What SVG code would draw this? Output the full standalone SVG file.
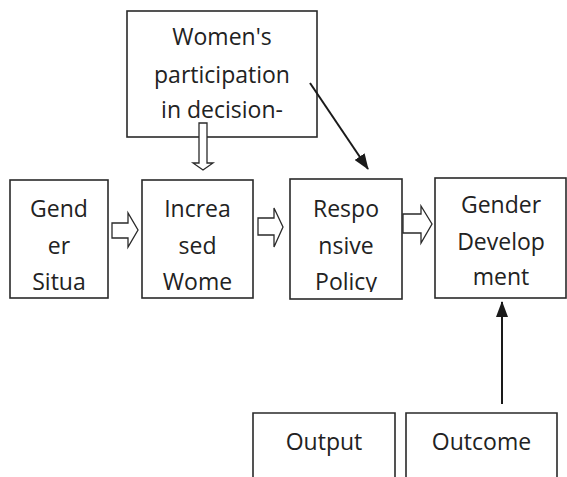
<svg xmlns="http://www.w3.org/2000/svg" width="567" height="477" viewBox="0 0 567 477">
<style>
.box{fill:#fff;stroke:#2a2a2a;stroke-width:1.6}
.t{font-family:"Open Sans","Liberation Sans",sans-serif;font-size:23px;fill:#222;text-anchor:middle}
.ho{fill:#fff;stroke:#2a2a2a;stroke-width:1.3;stroke-linejoin:miter}
.ln{stroke:#1a1a1a;stroke-width:2;fill:none}
</style>
<defs>
<marker id="ah" markerUnits="userSpaceOnUse" markerWidth="16" markerHeight="12" refX="15" refY="6" orient="auto">
<path d="M0,0 L16,6 L0,12 Z" fill="#1a1a1a"/>
</marker>
<clipPath id="c3"><rect x="290" y="179" width="112" height="113"/></clipPath>
</defs>
<rect width="567" height="477" fill="#fff"/>
<g id="n-women">
<rect class="box" x="127" y="11" width="190" height="126"/>
<text class="t" x="222" y="45">Women's</text>
<text class="t" x="222" y="83">participation</text>
<text class="t" x="222" y="118">in decision-</text>
</g>
<g id="n-gender-situation">
<rect class="box" x="10" y="180" width="98" height="118"/>
<text class="t" x="59" y="217">Gend</text>
<text class="t" x="59" y="254">er</text>
<text class="t" x="59" y="290">Situa</text>
</g>
<g id="n-increased">
<rect class="box" x="142" y="180" width="111" height="118"/>
<text class="t" x="197.5" y="217">Increa</text>
<text class="t" x="197.5" y="254">sed</text>
<text class="t" x="197.5" y="290">Wome</text>
</g>
<g id="n-responsive">
<rect class="box" x="290" y="179" width="112" height="120"/>
<g clip-path="url(#c3)">
<text class="t" x="346" y="217">Respo</text>
<text class="t" x="346" y="254">nsive</text>
<text class="t" x="346" y="290">Policy</text>
</g>
</g>
<g id="n-gender-development">
<rect class="box" x="435" y="178" width="131" height="120"/>
<text class="t" x="501" y="213">Gender</text>
<text class="t" x="501" y="250">Develop</text>
<text class="t" x="501" y="285">ment</text>
</g>
<g id="n-output">
<path class="box" d="M253,478 V413 H395 V478"/>
<text class="t" x="324" y="450">Output</text>
</g>
<g id="n-outcome">
<path class="box" d="M406,478 V413 H557 V478"/>
<text class="t" x="481.5" y="450">Outcome</text>
</g>
<g id="connectors">
<polygon class="ho" points="112,223 128,223 128,213 138,230 128,247 128,238 112,238"/>
<polygon class="ho" points="258,218 274,218 274,208 283,227 274,247 274,235 258,235"/>
<polygon class="ho" points="403,214 421,214 421,206 432,224 421,243 421,233 403,233"/>
<polygon class="ho" points="199,123 207,123 207,163 213,163 203,170 193,163 199,163"/>
<line class="ln" x1="310" y1="83" x2="368" y2="169" marker-end="url(#ah)"/>
<line class="ln" x1="502" y1="404" x2="502" y2="302" marker-end="url(#ah)"/>
</g>
</svg>
